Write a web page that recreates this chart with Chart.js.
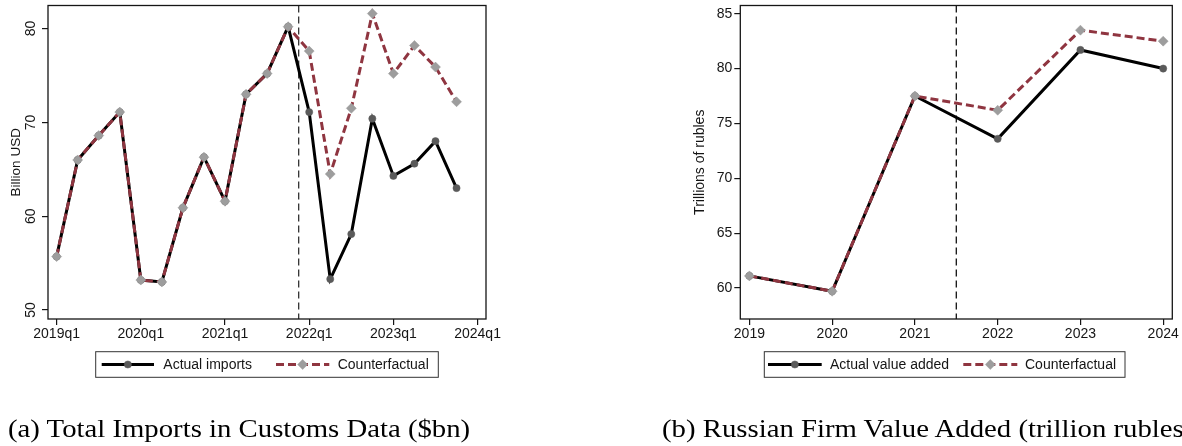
<!DOCTYPE html>
<html>
<head>
<meta charset="utf-8">
<script src="https://cdn.jsdelivr.net/npm/chart.js@4/dist/chart.umd.min.js"></script>
<style>
  html, body { margin: 0; padding: 0; background: #fff; overflow: hidden; }
  #wrap { position: relative; width: 1182px; height: 446px; overflow: hidden; }
  canvas { position: absolute; top: 0; }
  #importsChart { left: 0; }
  #valueChart { left: 600px; }
  .cap {
    position: absolute; top: 416.1px;
    font-family: "Liberation Serif", "Times New Roman", serif;
    font-size: 25px; line-height: 1; white-space: nowrap; color: #000;
    transform-origin: 0 0; transform: scaleX(1.15);
  }
</style>
</head>
<body>
<div id="wrap">
  <canvas id="importsChart" width="600" height="446"></canvas>
  <canvas id="valueChart" width="582" height="446"></canvas>
  <div class="cap" style="left:8px">(a) Total Imports in Customs Data ($bn)</div>
  <div class="cap" style="left:662px">(b) Russian Firm Value Added (trillion rubles)</div>
</div>
<script>
// ---- Panel (a): quarterly imports, billion USD ----
const quarters = ['2019q1','2019q2','2019q3','2019q4','2020q1','2020q2','2020q3','2020q4',
                  '2021q1','2021q2','2021q3','2021q4','2022q1','2022q2','2022q3','2022q4',
                  '2023q1','2023q2','2023q3','2023q4'];
const importsActual         = [55.7, 66.0, 68.6, 71.1, 53.2, 53.0, 60.9, 66.3, 61.6, 73.0, 75.2, 80.2,
                               71.1, 53.3, 58.1, 70.4, 64.3, 65.6, 68.0, 63.0];
const importsCounterfactual = [55.7, 66.0, 68.6, 71.1, 53.2, 53.0, 60.9, 66.3, 61.6, 73.0, 75.2, 80.2,
                               77.6, 64.5, 71.5, 81.6, 75.2, 78.2, 75.9, 72.2];
const quarterTicks = ['2019q1','2020q1','2021q1','2022q1','2023q1','2024q1'];
const importTicks  = [50, 60, 70, 80];
const importsBreak = '2022q1';   // dashed line sits half a quarter before this

// ---- Panel (b): annual firm value added, trillion rubles ----
const years = [2019, 2020, 2021, 2022, 2023, 2024];
const valueAddedActual         = [61.1, 59.7, 77.5, 73.6, 81.7, 80.0];
const valueAddedCounterfactual = [61.1, 59.7, 77.5, 76.2, 83.5, 82.5];
const yearTicks  = [2019, 2020, 2021, 2022, 2023, 2024];
const valueTicks = [60, 65, 70, 75, 80, 85];
const valueBreak = 2021.5;

// quarter label -> running quarter number from 2019q1
function quarterIndex(q) {
  const [y, n] = q.split('q').map(Number);
  return (y - 2019) * 4 + (n - 1);
}

const SANS = '"Liberation Sans", Arial, Helvetica, sans-serif';
const INK = '#151515';
const RED = '#8f3540';

const actualStyle = {
  borderColor: '#000', borderWidth: 3, borderDash: [],
  pointStyle: 'circle', pointRadius: 3.6, pointBorderWidth: 0.5,
  pointBackgroundColor: '#5a5a5a', pointBorderColor: '#5a5a5a',
  order: 2, tension: 0, fill: false
};
const cfStyle = {
  borderColor: RED, borderWidth: 3, borderDash: [8, 4],
  pointStyle: 'rectRot', pointRadius: 5, pointBorderWidth: 0.5,
  pointBackgroundColor: '#9d9d9d', pointBorderColor: '#9d9d9d',
  order: 1, tension: 0, fill: false
};

// box around the plot region
const frame = {
  id: 'frame',
  afterDatasetsDraw(chart) {
    const a = chart.chartArea, ctx = chart.ctx;
    ctx.save();
    ctx.strokeStyle = INK; ctx.lineWidth = 1.3;
    ctx.strokeRect(a.left, a.top, a.right - a.left, a.bottom - a.top);
    ctx.restore();
  }
};

// dashed reference line at a given x value
const breakLine = {
  id: 'breakLine',
  beforeDatasetsDraw(chart, args, opts) {
    const a = chart.chartArea, ctx = chart.ctx;
    const px = chart.scales.x.getPixelForValue(opts.value);
    ctx.save();
    ctx.strokeStyle = opts.color || '#222'; ctx.lineWidth = 1.3;
    ctx.setLineDash([7, 4]);
    ctx.beginPath(); ctx.moveTo(px, a.top); ctx.lineTo(px, a.bottom); ctx.stroke();
    ctx.restore();
  }
};

// framed legend below the plot, samples drawn from the datasets' own styles
const boxLegend = {
  id: 'boxLegend',
  afterDraw(chart, args, opts) {
    const ctx = chart.ctx, b = opts.box, cy = b.y + b.h / 2;
    ctx.save();
    ctx.fillStyle = '#fff'; ctx.fillRect(b.x, b.y, b.w, b.h);
    ctx.strokeStyle = '#333'; ctx.lineWidth = 1;
    ctx.strokeRect(b.x, b.y, b.w, b.h);
    opts.items.forEach((it, i) => {
      const ds = chart.data.datasets[i];
      ctx.save();
      ctx.strokeStyle = ds.borderColor; ctx.lineWidth = ds.borderWidth;
      ctx.setLineDash(ds.borderDash || []);
      ctx.beginPath(); ctx.moveTo(it.x0, cy); ctx.lineTo(it.x1, cy); ctx.stroke();
      ctx.setLineDash([]);
      ctx.fillStyle = ds.pointBackgroundColor; ctx.strokeStyle = ds.pointBorderColor;
      ctx.lineWidth = ds.pointBorderWidth;
      Chart.helpers.drawPoint(ctx, { pointStyle: ds.pointStyle, radius: ds.pointRadius, rotation: 0, borderWidth: ds.pointBorderWidth }, (it.x0 + it.x1) / 2, cy);
      ctx.restore();
      ctx.fillStyle = INK; ctx.font = '14px ' + SANS;
      ctx.textAlign = 'left'; ctx.textBaseline = 'middle';
      ctx.fillText(ds.label, it.tx, cy + 0.5);
    });
    ctx.restore();
  }
};

function makePanel(canvas, p) {
  return new Chart(canvas, {
    type: 'line',
    data: { datasets: [
      Object.assign({ label: p.labels[0], data: p.actual }, actualStyle),
      Object.assign({ label: p.labels[1], data: p.cf }, cfStyle)
    ] },
    options: {
      responsive: false, animation: false, events: [],
      parsing: false,
      layout: { padding: p.padding },
      plugins: {
        legend: { display: false }, tooltip: { enabled: false },
        breakLine: { value: p.breakAt, color: p.breakColor },
        boxLegend: p.legend
      },
      scales: {
        x: {
          type: 'linear', min: p.xMin, max: p.xMax,
          afterBuildTicks: s => { s.ticks = p.xTicks.map(v => ({ value: v })); },
          afterFit: s => { s.height = 127; s.paddingLeft = 0; s.paddingRight = 0; },
          ticks: {
            autoSkip: false, maxRotation: 0, minRotation: 0, padding: 1,
            color: INK, font: { family: SANS, size: 14 },
            callback: (v, i) => p.xLabels[i]
          },
          grid: { drawOnChartArea: false, drawTicks: true, tickLength: 6, color: INK, lineWidth: 1.2 },
          border: { display: false }
        },
        y: {
          type: 'linear', min: p.yMin, max: p.yMax,
          afterBuildTicks: s => { s.ticks = p.yTicks.map(v => ({ value: v })); },
          afterFit: s => { s.width = p.yWidth; s.paddingTop = 0; s.paddingBottom = 0; },
          ticks: Object.assign({
            color: INK, font: { family: SANS, size: 14 }
          }, p.yTickOpts),
          grid: { drawOnChartArea: false, drawTicks: true, tickLength: 6, color: INK, lineWidth: 1.2 },
          border: { display: false },
          title: {
            display: true, text: p.yTitle, color: INK,
            font: { family: SANS, size: p.yTitleSize },
            padding: { top: p.yTitlePad, bottom: 0 }
          }
        }
      }
    },
    plugins: [frame, breakLine, boxLegend]
  });
}

makePanel(document.getElementById('importsChart'), {
  labels: ['Actual imports', 'Counterfactual'],
  actual: quarters.map((q, i) => ({ x: quarterIndex(q), y: importsActual[i] })),
  cf: quarters.map((q, i) => ({ x: quarterIndex(q), y: importsCounterfactual[i] })),
  xMin: -0.41, xMax: 20.4,
  xTicks: quarterTicks.map(quarterIndex), xLabels: quarterTicks,
  yMin: 49.05, yMax: 82.46, yTicks: importTicks,
  yWidth: 48, yTitle: 'Billion USD', yTitleSize: 13.5, yTitlePad: 8,
  yTickOpts: { minRotation: 90, maxRotation: 90, crossAlign: 'center', padding: 3.5 },
  breakAt: quarterIndex(importsBreak) - 0.5, breakColor: '#333',
  padding: { left: 0, top: 3.5, right: 114, bottom: 0 },
  legend: {
    box: { x: 95.7, y: 351.7, w: 342.6, h: 25.6 },
    items: [ { x0: 101.7, x1: 154, tx: 163.3 }, { x0: 276, x1: 329.3, tx: 337.7 } ]
  }
});

makePanel(document.getElementById('valueChart'), {
  labels: ['Actual value added', 'Counterfactual'],
  actual: years.map((y, i) => ({ x: y, y: valueAddedActual[i] })),
  cf: years.map((y, i) => ({ x: y, y: valueAddedCounterfactual[i] })),
  xMin: 2018.89, xMax: 2024.11,
  xTicks: yearTicks, xLabels: yearTicks.map(String),
  yMin: 57.17, yMax: 85.75, yTicks: valueTicks,
  yWidth: 52.3, yTitle: 'Trillions of rubles', yTitleSize: 14, yTitlePad: 3.6,
  yTickOpts: { padding: 2 },
  breakAt: valueBreak, breakColor: '#111',
  padding: { left: 88, top: 3.5, right: 9.7, bottom: 0 },
  legend: {
    box: { x: 164.3, y: 351.7, w: 360.7, h: 25.6 },
    items: [ { x0: 168, x1: 221.7, tx: 230 }, { x0: 363.3, x1: 417.3, tx: 425 } ]
  }
});
</script>
</body>
</html>
